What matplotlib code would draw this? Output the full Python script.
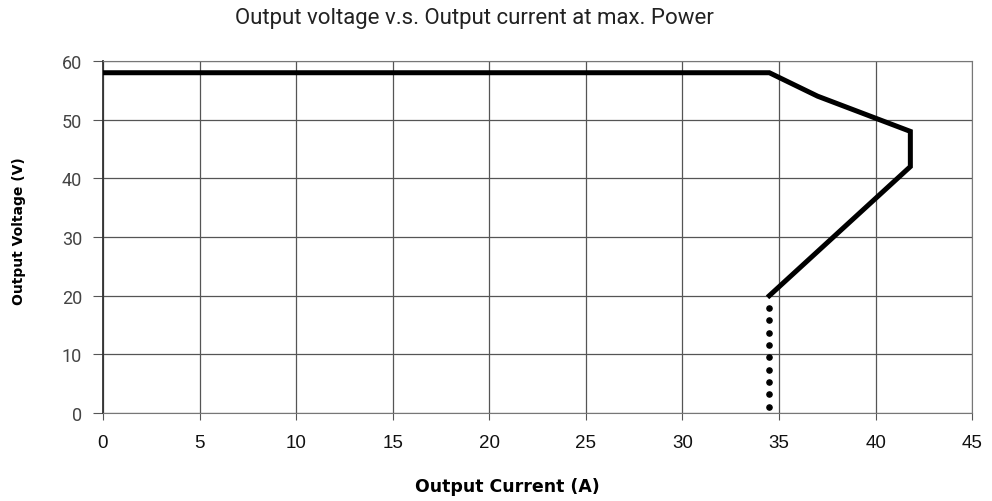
import matplotlib
matplotlib.use('Agg')
import matplotlib.pyplot as plt

# power curve (current A, voltage V)
current = [0, 34.5, 37.0, 41.8, 41.8, 34.5]
voltage = [58, 58, 54, 48, 42, 20]

# dotted tail below 20 V
dot_current = [34.5] * 9
dot_voltage = [17.9, 15.8, 13.7, 11.6, 9.5, 7.4, 5.3, 3.2, 1.1]

x_ticks = [0, 5, 10, 15, 20, 25, 30, 35, 40, 45]
y_ticks = [0, 10, 20, 30, 40, 50, 60]

plt.rcParams['font.family'] = ['Roboto', 'DejaVu Sans']

fig = plt.figure(figsize=(9.92, 5.02), dpi=100)
ax = fig.add_axes([0.1038, 0.1753, 0.8762, 0.7012])

ax.plot(current, voltage, color='black', lw=3.6, solid_joinstyle='miter', zorder=3)
ax.scatter(dot_current, dot_voltage, s=14, color='black', zorder=3)

ax.set_xlim(0, 45)
ax.set_ylim(0, 60)
ax.set_xticks(x_ticks)
ax.set_yticks(y_ticks)
ax.grid(True, color='#555555', lw=0.9)
ax.set_axisbelow(True)
for side in ['top', 'right', 'bottom']:
    ax.spines[side].set_color('#777777')
ax.spines['left'].set_color('#333333')
ax.spines['left'].set_linewidth(1.3)
ax.tick_params(axis='y', length=7, pad=8, color='#555555', labelsize=13, labelcolor='#444444')
ax.tick_params(axis='x', length=5, pad=10, color='#555555', labelsize=13.5, labelcolor='#111111')
for lab in ax.get_xticklabels():
    lab.set_family(['Liberation Sans', 'DejaVu Sans'])

fig.text(0.478, 0.963, 'Output voltage v.s. Output current at max. Power',
         ha='center', va='center', fontsize=16, color='#222222')
fig.text(0.511, 0.030, 'Output Current (A)', ha='center', va='center', fontsize=12.5,
         fontweight='bold', family=['DejaVu Sans'])
fig.text(0.019, 0.539, 'Output Voltage (V)', ha='center', va='center', rotation=90,
         fontsize=10, fontweight='bold', family=['DejaVu Sans'])

fig.savefig('out.png', dpi=100)
